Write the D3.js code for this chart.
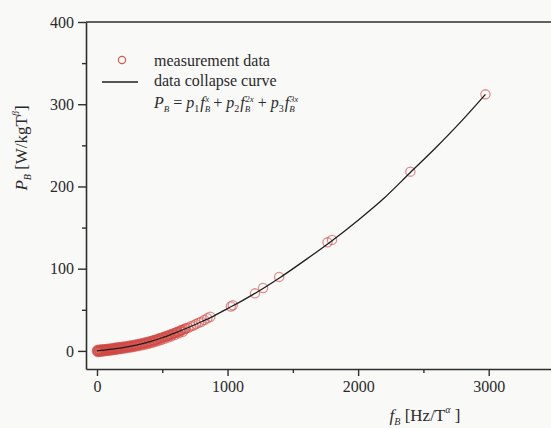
<!DOCTYPE html>
<html>
<head>
<meta charset="utf-8">
<script src="https://cdn.jsdelivr.net/npm/d3@7"></script>
<style>
  html, body { margin: 0; padding: 0; background: #f9f9f8; }
  svg { display: block; }
  text { font-family: "Liberation Serif", "Times New Roman", serif; fill: #2a2a2a; }
</style>
</head>
<body>
<svg id="chart" width="551" height="428"></svg>
<script>
// Measured loss points: frequency f_B and specific loss P_B (batch 1)
const measF = [0, 6, 12, 18, 25, 32, 40, 48, 55, 62, 70, 78, 85, 92, 100, 108, 116, 124, 132, 140,
  148, 156, 164, 172, 180, 190, 200, 210, 220, 230, 240, 250, 260, 270, 280, 292, 304, 316, 328, 340,
  352, 364, 376, 388, 400, 412, 424, 436, 448, 460, 472, 485, 498, 511, 524, 537, 550, 563, 577, 591,
  605, 620, 635, 650, 666, 682, 700, 718, 738, 758, 780, 800, 822, 845, 868,
  1025, 1040, 1210, 1272, 1395, 1765, 1800, 2400, 2975];
const measP = [-0.5, 0.3, -0.2, 0.6, 0.2, 0.9, 0.5, 1.1, 0.7, 1.3, 1.0, 1.6, 1.2, 1.9, 1.6, 2.2, 1.9, 2.6, 2.4, 3.0,
  2.7, 3.4, 3.1, 3.8, 3.5, 4.1, 3.8, 4.6, 4.4, 5.1, 4.9, 5.6, 5.4, 6.2, 6.0, 6.9, 6.8, 7.8, 7.6, 8.6,
  8.4, 9.5, 9.3, 10.4, 10.6, 11.8, 11.7, 12.8, 12.9, 14.0, 14.2, 15.4, 15.6, 16.8, 17.1, 18.2, 18.6, 19.8, 20.3, 21.6,
  22.0, 23.4, 23.9, 25.3, 25.9, 27.5, 28.2, 29.9, 31.0, 32.6, 34.3, 35.6, 37.6, 39.8, 41.5,
  54.0, 55.5, 70.0, 76.5, 90.0, 132.0, 135.0, 218.0, 312.0];

// Measured loss points (batch 2, low-frequency range)
const measF2 = [3, 9, 15, 22, 28, 36, 44, 51, 58, 66, 74, 81, 88, 96, 104, 112, 120, 128, 136, 144,
  152, 160, 168, 176, 185, 195, 205, 215, 225, 235, 245, 255, 265, 275, 286, 298, 310, 322, 334, 346,
  358, 370, 382, 394, 406, 418, 430, 442, 454, 466, 478, 491, 504, 517, 530, 543, 556, 570, 584, 598,
  612, 627, 642, 658, 674];
const measP2 = [1.2, -1.3, 1.4, -1.0, 1.6, -0.7, 1.9, -0.4, 2.1, -0.1, 2.4, 0.2, 2.7, 0.5, 3.0, 0.8, 3.3, 1.2, 3.7, 1.5,
  4.0, 1.9, 4.4, 2.3, 4.8, 2.7, 5.3, 3.2, 5.8, 3.7, 6.3, 4.2, 6.9, 4.8, 7.5, 5.4, 8.3, 6.1, 9.1, 6.9,
  9.9, 7.8, 10.8, 8.7, 11.8, 9.7, 12.9, 10.8, 14.0, 12.0, 15.3, 13.3, 16.7, 14.7, 18.1, 16.2, 19.6, 17.8, 21.3, 19.6,
  23.1, 21.4, 25.0, 23.3, 27.0];

// Data collapse curve, sampled
const curveF = [0, 100, 200, 300, 400, 500, 600, 700, 800, 900, 1000, 1100, 1200, 1400, 1600, 1800,
  2000, 2200, 2400, 2600, 2800, 2975];
const curveP = [0, 1.8, 4, 7, 11, 16, 22, 28.5, 35.5, 43, 51.5, 60, 69, 89, 111, 134,
  159, 186, 217, 248, 281, 312];

const xTicks = [0, 1000, 2000, 3000];
const xMinor = [500, 1500, 2500];
const yTicks = [0, 100, 200, 300, 400];
const yMinor = [50, 150, 250, 350];

const svg = d3.select("#chart");
const plotL = 86, plotT = 22, plotB = 369, plotR = 554;

const x = d3.scaleLinear().domain([-84, 3500]).range([plotL, plotR]);
const y = d3.scaleLinear().domain([-22, 400]).range([plotB, plotT]);

const axisColor = "#2e2e2e";

// minor ticks
svg.append("g").attr("transform", `translate(0,${plotB})`)
  .call(d3.axisBottom(x).tickValues(xMinor).tickSize(4).tickFormat(""))
  .call(g => g.select(".domain").remove());
svg.append("g").attr("transform", `translate(${plotL},0)`)
  .call(d3.axisLeft(y).tickValues(yMinor).tickSize(4).tickFormat(""))
  .call(g => g.select(".domain").remove());

// major axes
svg.append("g").attr("transform", `translate(0,${plotB})`)
  .call(d3.axisBottom(x).tickValues(xTicks).tickSize(7).tickSizeOuter(0).tickPadding(5).tickFormat(d3.format("d")));
svg.append("g").attr("transform", `translate(${plotL},0)`)
  .call(d3.axisLeft(y).tickValues(yTicks).tickSize(8).tickSizeOuter(0).tickPadding(4).tickFormat(d3.format("d")));

svg.selectAll(".tick line").attr("stroke", axisColor).attr("stroke-width", 1.4);
svg.selectAll(".domain").attr("stroke", axisColor).attr("stroke-width", 1.6);
svg.selectAll(".tick text").attr("font-size", 16)
  .style("font-family", "'Liberation Serif', serif").attr("fill", "#2a2a2a");

// top frame line
svg.append("line").attr("x1", plotL).attr("x2", 551).attr("y1", plotT).attr("y2", plotT)
  .attr("stroke", axisColor).attr("stroke-width", 1.6);

// measurement circles
const pts = measF.map((f, i) => ({ f, p: measP[i] }))
  .concat(measF2.map((f, i) => ({ f, p: measP2[i] })));
svg.append("g").selectAll("circle").data(pts).join("circle")
  .attr("cx", d => x(d.f)).attr("cy", d => y(d.p)).attr("r", 4.6)
  .attr("fill", "none").attr("stroke", "#d24a45").attr("stroke-opacity", 0.62)
  .attr("stroke-width", 1.3);

// fitted curve
const line = d3.line().x(d => x(d[0])).y(d => y(d[1])).curve(d3.curveMonotoneX);
svg.append("path").datum(curveF.map((f, i) => [f, curveP[i]]))
  .attr("d", line).attr("fill", "none").attr("stroke", "#1e1e1e").attr("stroke-width", 1.3);

// legend
svg.append("circle").attr("cx", 122).attr("cy", 60).attr("r", 3.6)
  .attr("fill", "none").attr("stroke", "#c8604a").attr("stroke-width", 1.2);
svg.append("line").attr("x1", 102).attr("x2", 138).attr("y1", 82).attr("y2", 82)
  .attr("stroke", "#1e1e1e").attr("stroke-width", 1.3);
svg.append("text").attr("x", 154).attr("y", 66).attr("font-size", 16).text("measurement data");
svg.append("text").attr("x", 154).attr("y", 86).attr("font-size", 16).text("data collapse curve");

// formula  P_B = p1 fB^x + p2 fB^2x + p3 fB^3x
// each piece: text, size, italic, dx, dy (shift relative to previous piece)
const eqPieces = [
  ["P", 16, true, 0, 0], ["B", 9, true, 0, 4],
  [" = ", 16, false, 0, -4], ["p", 16, true, 0, 0], ["1", 10, false, 0, 4],
  ["f", 16, true, 1, -4], ["B", 9, true, 0, 4], ["x", 9, true, -5, -10],
  [" + ", 16, false, 0, 6], ["p", 16, true, 0, 0], ["2", 10, false, 0, 4],
  ["f", 16, true, 1, -4], ["B", 9, true, 0, 4], ["2x", 9, true, -5, -10],
  [" + ", 16, false, 0, 6], ["p", 16, true, 0, 0], ["3", 10, false, 0, 4],
  ["f", 16, true, 1, -4], ["B", 9, true, 0, 4], ["3x", 9, true, -5, -10]
];
const eq = svg.append("text").attr("x", 154).attr("y", 108).attr("font-size", 16)
  .attr("xml:space", "preserve").style("white-space", "pre");
eqPieces.forEach(([t, s, it, dx, dy]) => {
  eq.append("tspan").attr("font-size", s).attr("font-style", it ? "italic" : "normal")
    .attr("dx", dx).attr("dy", dy).text(t);
});

// axis titles
const yl = svg.append("text").attr("transform", "translate(27,148) rotate(-90)")
  .attr("text-anchor", "middle").attr("font-size", 17).style("white-space", "pre");
yl.append("tspan").attr("font-style", "italic").text("P");
yl.append("tspan").attr("font-style", "italic").attr("font-size", 10).attr("dy", 4).text("B");
yl.append("tspan").attr("dy", -4).text(" [W/kgT");
yl.append("tspan").attr("font-style", "italic").attr("font-size", 10).attr("dy", -8).text("β");
yl.append("tspan").attr("dy", 8).text("]");

const xl = svg.append("text").attr("x", 425).attr("y", 421)
  .attr("text-anchor", "middle").attr("font-size", 17).style("white-space", "pre");
xl.append("tspan").attr("font-style", "italic").text("f");
xl.append("tspan").attr("font-style", "italic").attr("font-size", 10).attr("dy", 4).text("B");
xl.append("tspan").attr("dy", -4).text(" [Hz/T");
xl.append("tspan").attr("font-style", "italic").attr("font-size", 10).attr("dy", -8).text("α");
xl.append("tspan").attr("dy", 8).text(" ]");
</script>
</body>
</html>
